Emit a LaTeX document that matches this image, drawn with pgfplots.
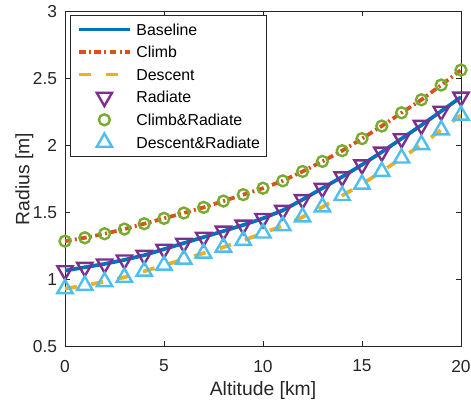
\documentclass[border=0pt]{standalone}
\usepackage{fontspec}
\setmainfont{Liberation Sans}
\usepackage{pgfplots}
\pgfplotsset{compat=1.18}
\definecolor{cBlue}{HTML}{0072BD}
\definecolor{cOrange}{HTML}{D95319}
\definecolor{cYellow}{HTML}{EDB120}
\definecolor{cPurple}{HTML}{7E2F8E}
\definecolor{cGreen}{HTML}{77AC30}
\definecolor{cCyan}{HTML}{4DBEEE}
\definecolor{axgray}{HTML}{262626}

\pgfplotstableread{
x y
0 1.065
1 1.090
2 1.115
3 1.145
4 1.180
5 1.225
6 1.270
7 1.315
8 1.360
9 1.405
10 1.455
11 1.515
12 1.595
13 1.680
14 1.765
15 1.855
16 1.950
17 2.050
18 2.150
19 2.255
20 2.360
}\baseline

\pgfplotstableread{
x y
0 1.285
1 1.310
2 1.340
3 1.375
4 1.415
5 1.455
6 1.495
7 1.537
8 1.584
9 1.632
10 1.680
11 1.735
12 1.805
13 1.880
14 1.960
15 2.050
16 2.144
17 2.243
18 2.340
19 2.450
20 2.562
}\climb

\pgfplotstableread{
x y
0 0.930
1 0.955
2 0.982
3 1.015
4 1.060
5 1.105
6 1.150
7 1.195
8 1.240
9 1.290
10 1.345
11 1.400
12 1.465
13 1.540
14 1.625
15 1.710
16 1.805
17 1.905
18 2.005
19 2.115
20 2.225
}\descent

\begin{document}
\begin{tikzpicture}
\begin{axis}[
  scale only axis,
  width=297pt, height=251.25pt,
  xmin=0, xmax=20, ymin=0.5, ymax=3,
  xtick={0,5,10,15,20},
  ytick={0.5,1,1.5,2,2.5,3},
  tick align=inside,
  major tick length=3.75pt,
  axis line style={draw=axgray, line width=0.6pt},
  every tick/.style={draw=axgray, line width=0.6pt},
  /pgf/number format/assume math mode=true,
  tick label style={font=\fontsize{13}{15}\selectfont, text=axgray, inner sep=0pt},
  xticklabel style={anchor=center, yshift=-14.8pt},
  yticklabel style={anchor=east, xshift=-5.8pt},
  xlabel={Altitude [km]},
  ylabel={Radius [m]},
  every axis x label/.style={at={(axis description cs:0.5,-0.1305)}, anchor=center,
     font=\fontsize{14.5}{17}\selectfont, text=axgray, inner sep=0pt},
  every axis y label/.style={at={(axis description cs:-0.1024,0.5)}, anchor=center, rotate=90,
     font=\fontsize{14.5}{17}\selectfont, text=axgray, inner sep=0pt},
  legend style={
    at={(axis description cs:0.0126,0.989)}, anchor=north west,
    draw=axgray, fill=white, line width=0.6pt,
    font=\fontsize{11.9}{14}\selectfont,
    nodes={inner sep=0pt, text height=12.7pt, text depth=4.25pt},
    row sep=0pt, column sep=3.5pt,
    inner xsep=5pt, inner ysep=2pt,
  },
  legend cell align=left,
  legend image code/.code={
    \draw[mark repeat=2,mark phase=2,#1]
      plot coordinates {(0pt,0pt) (19.1pt,0pt) (38.25pt,0pt)};
  },
]
\addplot[cBlue, line width=2.8pt] table[x=x,y=y]{\baseline};
\addlegendentry{Baseline}
\addplot[cOrange, line width=2.8pt, dash pattern=on 5pt off 2.5pt on 1.5pt off 2.5pt] table[x=x,y=y]{\climb};
\addlegendentry{Climb}
\addplot[cYellow, line width=2.8pt, dash pattern=on 9pt off 11pt] table[x=x,y=y]{\descent};
\addlegendentry{Descent}
\addplot[only marks, cPurple, mark=triangle, mark size=6.6pt, mark options={rotate=180, line width=1.8pt, fill=none, solid}] table[x=x,y=y]{\baseline};
\addlegendentry{Radiate}
\addplot[only marks, cGreen, mark=o, mark size=4.1pt, mark options={line width=1.8pt, solid}] table[x=x,y=y]{\climb};
\addlegendentry{Climb\&Radiate}
\addplot[only marks, cCyan, mark=triangle, mark size=6.6pt, mark options={line width=1.8pt, fill=none, solid}] table[x=x,y=y]{\descent};
\addlegendentry{Descent\&Radiate}
\coordinate (sw) at (rel axis cs:0,0);
\coordinate (ne) at (rel axis cs:1,1);
\end{axis}
\pgfresetboundingbox
\path[use as bounding box] ([xshift=-48.75pt,yshift=-44pt]sw) rectangle ([xshift=7.5pt,yshift=8.5pt]ne);
\end{tikzpicture}
\end{document}
